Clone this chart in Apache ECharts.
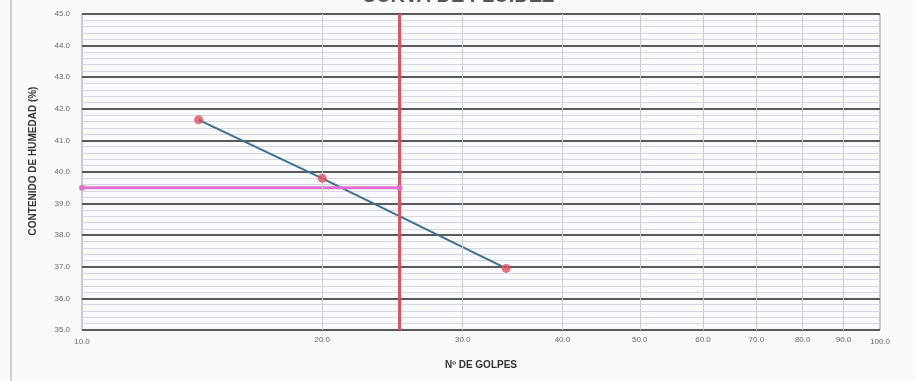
<!DOCTYPE html>
<html>
<head>
<meta charset="utf-8">
<script src="https://cdn.jsdelivr.net/npm/echarts@6/dist/echarts.min.js"></script>
<style>
  html, body { margin: 0; padding: 0; background: #f8fafc; }
  #chart { width: 916px; height: 381px; }
</style>
</head>
<body>
<div id="chart"></div>
<script>
// datos del ensayo
const golpes = [14, 20, 34];
const humedad = [41.65, 39.8, 36.95];
// líneas verticales de referencia en eje log
const xTicks = [20, 30, 40, 50, 60, 70, 80, 90];
const golpesLimite = 25;
const humedadLimite = 39.5;
const yMin = 35, yMax = 45;

const chart = echarts.init(document.getElementById('chart'));

const option = {
  backgroundColor: '#f8fafc',
  animation: false,
  title: {
    text: 'CURVA DE FLUIDEZ',
    left: 'center',
    top: -19,
    textStyle: {fontSize: 20, fontWeight: 'bold', color: '#555', fontFamily: 'Liberation Sans'}
  },
  graphic: [
    {type: 'line', shape: {x1: 11, y1: 0, x2: 11, y2: 381}, style: {stroke: '#aaa', lineWidth: 1}}
  ],
  grid: {left: 82, right: 36, top: 14, bottom: 51, show: true, borderColor: '#999', borderWidth: 1},
  xAxis: {
    type: 'log',
    logBase: 10,
    min: 10,
    max: 100,
    name: 'Nº DE GOLPES',
    nameLocation: 'middle',
    nameGap: 30,
    nameTextStyle: {fontSize: 10, fontWeight: 'bold', color: '#333', fontFamily: 'Liberation Sans'},
    axisLine: {show: false},
    axisTick: {show: false},
    splitLine: {show: false},
    axisLabel: {
      fontSize: 8, color: '#666', fontFamily: 'Liberation Sans', margin: 8,
      formatter: v => v.toFixed(1)
    }
  },
  yAxis: {
    type: 'value',
    min: yMin,
    max: yMax,
    interval: 1,
    name: 'CONTENIDO DE HUMEDAD (%)',
    nameLocation: 'middle',
    nameGap: 44,
    nameTextStyle: {fontSize: 10, fontWeight: 'bold', color: '#333', fontFamily: 'Liberation Sans', padding: [0, 0, 0, 22]},
    axisLine: {show: false},
    axisTick: {show: false},
    axisLabel: {
      fontSize: 8, color: '#666', fontFamily: 'Liberation Sans', margin: 12,
      formatter: v => v.toFixed(1)
    },
    splitLine: {lineStyle: {color: '#5a5a5a', width: 2}},
    minorTick: {show: false, splitNumber: 5},
    minorSplitLine: {show: true, lineStyle: {color: '#d4d8de', width: 1}}
  },
  series: [
    {
      // rejilla vertical 20..90
      type: 'line',
      data: [],
      silent: true,
      markLine: {
        silent: true,
        symbol: 'none',
        lineStyle: {color: '#c8ccd4', width: 1, type: 'solid'},
        label: {
          position: 'start',
          distance: 6,
          fontSize: 8,
          color: '#666',
          fontFamily: 'Liberation Sans',
          formatter: p => p.value.toFixed(1)
        },
        data: xTicks.map(v => ({xAxis: v}))
      }
    },
    {
      // línea de tendencia
      type: 'line',
      data: golpes.map((g, i) => [g, humedad[i]]),
      showSymbol: false,
      lineStyle: {color: '#3d6f8e', width: 2},
      z: 3
    },
    {
      type: 'scatter',
      data: golpes.map((g, i) => [g, humedad[i]]),
      symbolSize: 9,
      itemStyle: {color: '#e0505e'},
      z: 5
    },
    {
      // 25 golpes
      type: 'line',
      data: [[golpesLimite, yMin], [golpesLimite, yMax]],
      showSymbol: false,
      lineStyle: {color: '#e0505e', width: 3},
      z: 4
    },
    {
      // límite líquido
      type: 'line',
      data: [[10, humedadLimite], [golpesLimite, humedadLimite]],
      symbol: 'circle',
      symbolSize: 6,
      itemStyle: {color: '#e070cc'},
      lineStyle: {color: '#e070cc', width: 3},
      z: 4
    }
  ]
};
chart.setOption(option);
</script>
</body>
</html>
